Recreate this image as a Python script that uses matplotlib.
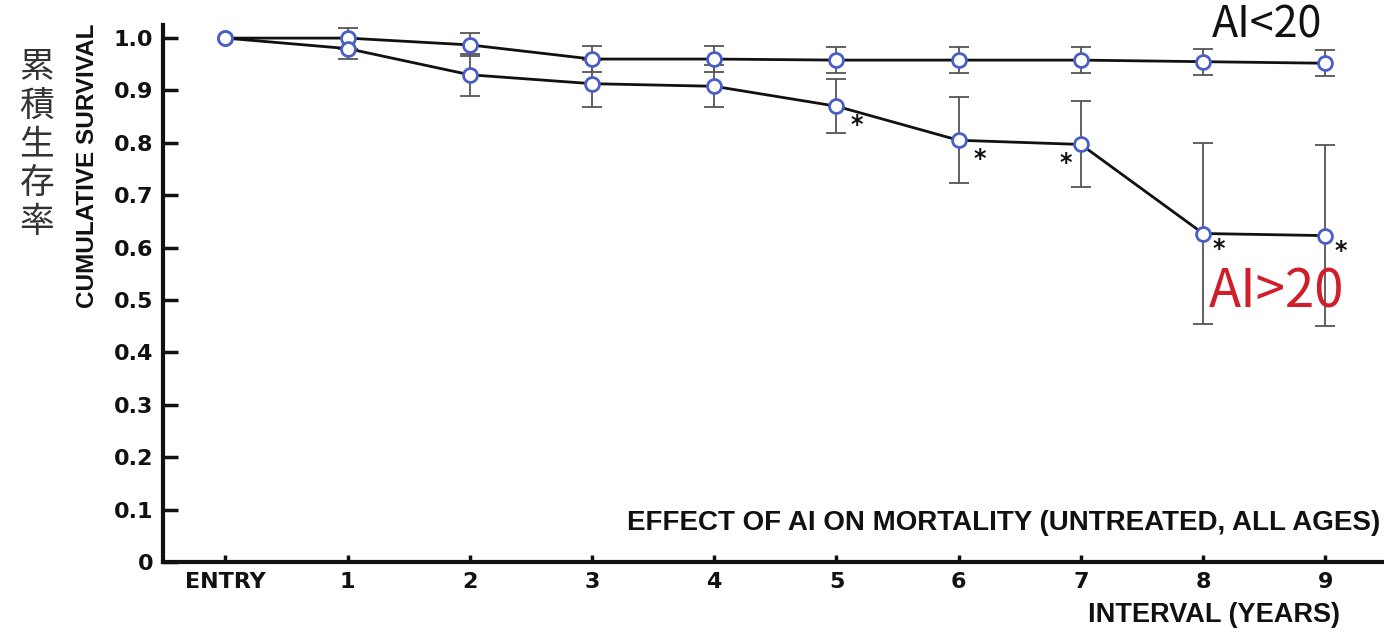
import matplotlib
matplotlib.use("Agg")
import matplotlib.pyplot as plt
from matplotlib import font_manager

# ---- data ----
x_labels = ["ENTRY", "1", "2", "3", "4", "5", "6", "7", "8", "9"]
x_pos = list(range(len(x_labels)))
y_ticks = [0, 0.1, 0.2, 0.3, 0.4, 0.5, 0.6, 0.7, 0.8, 0.9, 1.0]
y_ticklabels = ["0", "0.1", "0.2", "0.3", "0.4", "0.5", "0.6", "0.7", "0.8", "0.9", "1.0"]

ai_low = [1.0, 1.0, 0.987, 0.96, 0.96, 0.958, 0.958, 0.958, 0.955, 0.952]
ai_low_err = [0.0, 0.02, 0.022, 0.025, 0.025, 0.025, 0.025, 0.025, 0.025, 0.025]

ai_high = [1.0, 0.98, 0.93, 0.913, 0.908, 0.87, 0.805, 0.797, 0.627, 0.623]
ai_high_err = [0.0, 0.02, 0.04, 0.045, 0.04, 0.052, 0.082, 0.082, 0.172, 0.172]

star_idx = [5, 6, 7, 8, 9]
star_dx = [0.17, 0.17, -0.12, 0.13, 0.13]
star_dy = [-0.035, -0.035, -0.035, -0.03, -0.03]

def pick(names):
    avail = {f.name for f in font_manager.fontManager.ttflist}
    for n in names:
        if n in avail:
            return n
    return "DejaVu Sans"

sans_bold = pick(["Liberation Sans Narrow", "Liberation Sans", "DejaVu Sans"])
tick_font = "DejaVu Sans"
cjk = pick(["Noto Sans CJK JP", "Noto Sans CJK SC", "DejaVu Sans"])

fig = plt.figure(figsize=(13.84, 6.33), dpi=100)
ax = fig.add_axes([163/1384, 1-562/633, 1-163/1384, (562-25)/633])

line_c = "#111111"
mk_edge = "#4a5ec8"
err_c = "#555555"

for vals, errs in [(ai_low, ai_low_err), (ai_high, ai_high_err)]:
    ax.errorbar(x_pos[1:], vals[1:], yerr=errs[1:], fmt="none", ecolor=err_c,
                elinewidth=1.3, capsize=7, capthick=1.3, zorder=2)
    ax.plot(x_pos, vals, color=line_c, lw=2.0, zorder=3)
    ax.plot(x_pos, vals, ls="none", marker="o", ms=10, mfc="white",
            mec=mk_edge, mew=2.0, zorder=4)

for i, dx, dy in zip(star_idx, star_dx, star_dy):
    ax.text(x_pos[i] + dx, ai_high[i] + dy, "*", fontsize=17, fontweight="bold",
            ha="center", va="center", color="#111111", family=tick_font)

ax.set_xlim(-0.51, 9.48)
ax.set_ylim(0, 1.025)
ax.set_xticks(x_pos)
ax.set_xticklabels(x_labels, fontsize=16, fontweight="bold", family=tick_font)
ax.set_yticks(y_ticks)
ax.set_yticklabels(y_ticklabels, fontsize=16, fontweight="bold", family=tick_font)

for s in ["top", "right"]:
    ax.spines[s].set_visible(False)
for s in ["left", "bottom"]:
    ax.spines[s].set_linewidth(3.0)
    ax.spines[s].set_color("#111111")

ax.tick_params(axis="y", direction="in", length=11, width=2.5, pad=7, colors="#111111")
ax.tick_params(axis="x", direction="in", length=5, width=2.5, pad=7, colors="#111111")

# labels
fig.text(88/1384, 1-166/633, "CUMULATIVE SURVIVAL", rotation=90, ha="center", va="center",
         fontsize=17.5, fontweight="bold", family=sans_bold, color="#111111")
fig.text(37/1384, 1-145/633, "累\n積\n生\n存\n率", ha="center", va="center",
         fontsize=25, family=cjk, color="#333333", linespacing=1.14)

fig.text(1380/1384, 1-523/633, "EFFECT OF AI ON MORTALITY (UNTREATED, ALL AGES)",
         ha="right", va="center", fontsize=20, fontweight="bold", family=sans_bold, color="#111111")
fig.text(1340/1384, 1-615/633, "INTERVAL (YEARS)", ha="right", va="center",
         fontsize=19.5, fontweight="bold", family=sans_bold, color="#111111")

fig.text(1267/1384, 1-26/633, "AI<20", ha="center", va="center", fontsize=31,
         family=cjk, color="#111111")
fig.text(1277/1384, 1-292/633, "AI>20", ha="center", va="center", fontsize=38,
         family=cjk, color="#d01f2a")

fig.savefig("out.png", dpi=100, facecolor="white")
